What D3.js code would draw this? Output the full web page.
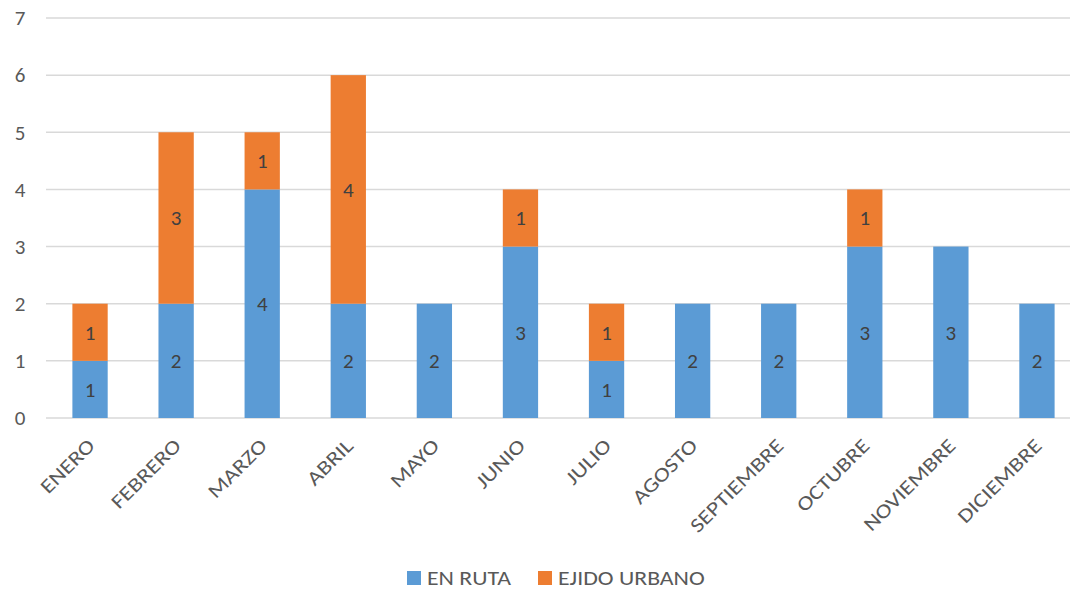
<!DOCTYPE html>
<html>
<meta charset="utf-8">
<style>
body { margin: 0; background: #fff; }
svg { font-family: Carlito, Lato, "Liberation Sans", sans-serif; }
.grid line { stroke: #d9d9d9; stroke-width: 1.5; }
.ylab { fill: #595959; font-size: 21px; }
.xlab { fill: #595959; font-size: 20px; }
.val { fill: #404040; font-size: 21px; }
.leg { fill: #595959; font-size: 20px; }
</style>
<body>
<svg width="1070" height="590"></svg>
<script src="https://cdn.jsdelivr.net/npm/d3@7"></script>
<script>

var months = ["ENERO", "FEBRERO", "MARZO", "ABRIL", "MAYO", "JUNIO", "JULIO",
              "AGOSTO", "SEPTIEMBRE", "OCTUBRE", "NOVIEMBRE", "DICIEMBRE"];
var enRuta = [1, 2, 4, 2, 2, 3, 1, 2, 2, 3, 3, 2];
var ejidoUrbano = [1, 3, 1, 4, 0, 1, 1, 0, 0, 1, 0, 0];
var seriesNames = ["EN RUTA", "EJIDO URBANO"];
var colors = ["#5b9bd5", "#ed7d31"];
var yTicks = [0, 1, 2, 3, 4, 5, 6, 7];

var svg = d3.select("svg");

var x = d3.scaleBand()
    .domain(months)
    .range([47, 1080])
    .paddingInner(0.59)
    .paddingOuter(0.295);

var y = d3.scaleLinear()
    .domain([0, 7])
    .range([418, 18]);

// gridlines
svg.append("g")
    .attr("class", "grid")
  .selectAll("line")
  .data(yTicks)
  .enter().append("line")
    .attr("x1", 46)
    .attr("x2", 1070)
    .attr("y1", function(d) { return y(d); })
    .attr("y2", function(d) { return y(d); });

svg.append("g")
  .selectAll("text")
  .data(yTicks)
  .enter().append("text")
    .attr("class", "ylab")
    .attr("x", 20)
    .attr("y", function(d) { return y(d); })
    .attr("dy", "0.35em")
    .attr("text-anchor", "middle")
    .text(function(d) { return d; });

var rows = months.map(function(m, i) {
  return { month: m, "EN RUTA": enRuta[i], "EJIDO URBANO": ejidoUrbano[i] };
});
var stacked = d3.stack().keys(seriesNames)(rows);

var layer = svg.selectAll(".layer")
  .data(stacked)
  .enter().append("g")
    .attr("class", "layer")
    .attr("fill", function(d, i) { return colors[i]; });

layer.selectAll("rect")
  .data(function(d) { return d; })
  .enter().append("rect")
    .attr("x", function(d) { return x(d.data.month); })
    .attr("width", x.bandwidth())
    .attr("y", function(d) { return y(d[1]); })
    .attr("height", function(d) { return y(d[0]) - y(d[1]); });

layer.selectAll("text")
  .data(function(d) { return d.filter(function(v) { return v[1] - v[0] > 0; }); })
  .enter().append("text")
    .attr("class", "val")
    .attr("x", function(d) { return x(d.data.month) + x.bandwidth() / 2; })
    .attr("y", function(d) { return y((d[0] + d[1]) / 2); })
    .attr("dy", "0.35em")
    .attr("text-anchor", "middle")
    .text(function(d) { return d[1] - d[0]; });

// x labels, rotated (stretched a bit to look like the wide original glyphs)
svg.append("g")
  .selectAll("text")
  .data(months)
  .enter().append("text")
    .attr("class", "xlab")
    .attr("text-anchor", "end")
    .attr("transform", function(d) {
      return "translate(" + (x(d) + x.bandwidth() / 2 + 6) + ",447) rotate(-45) scale(1.2,1)";
    })
    .text(function(d) { return d; });

// legend
var legend = svg.append("g").attr("transform", "translate(407,578)");
var lx = [0, 131];
seriesNames.forEach(function(s, i) {
  var g = legend.append("g").attr("transform", "translate(" + lx[i] + ",0)");
  g.append("rect")
    .attr("x", 0).attr("y", -7)
    .attr("width", 14).attr("height", 14)
    .attr("fill", colors[i]);
  g.append("text")
    .attr("class", "leg")
    .attr("transform", "translate(20,0) scale(1.19,1)")
    .attr("dy", "0.35em")
    .text(s);
});

</script>
</body>
</html>
